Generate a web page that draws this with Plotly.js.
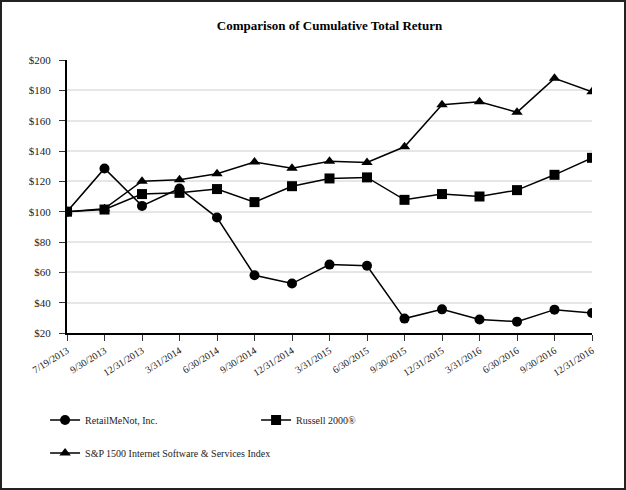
<!DOCTYPE html>
<html>
<head>
<meta charset="utf-8">
<script src="https://cdn.plot.ly/plotly-3.0.1.min.js"></script>
<style>
html,body{margin:0;padding:0;background:#fff;}
#wrap{position:relative;width:626px;height:490px;}
#chart{position:absolute;left:0;top:0;width:626px;height:490px;}
#frame{position:absolute;left:0px;top:0px;width:622px;height:486px;border:2px solid #222;pointer-events:none;}
</style>
</head>
<body>
<div id="wrap"><div id="chart"></div><div id="frame"></div></div>
<script>
var dates = ["7/19/2013","9/30/2013","12/31/2013","3/31/2014","6/30/2014","9/30/2014","12/31/2014","3/31/2015","6/30/2015","9/30/2015","12/31/2015","3/31/2016","6/30/2016","9/30/2016","12/31/2016"];
var retailMeNot = [100,128.5,103.8,115.3,96.1,58.1,52.6,65.1,64.3,29.5,35.6,28.9,27.5,35.4,33.2];
var russell2000 = [100,101.4,111.6,112.4,114.9,106.3,116.8,121.9,122.6,107.8,111.6,110.0,114.2,124.3,135.5];
var sp1500Internet = [100,102.0,120.1,121.0,125.0,132.7,128.7,133.3,132.5,142.8,170.5,172.5,165.5,187.9,179.1];
var yTicks = [20,40,60,80,100,120,140,160,180,200];
var yTickText = yTicks.map(function(v){ return "$" + v; });

var font = "Liberation Serif, Times New Roman, serif";
var traces = [
  {x: dates, y: retailMeNot, name: "RetailMeNot, Inc.", mode: "lines+markers",
   line: {color: "#000", width: 1.5}, marker: {symbol: "circle", size: 10, color: "#000"}, legend: "legend"},
  {x: dates, y: russell2000, name: "Russell 2000®", mode: "lines+markers",
   line: {color: "#000", width: 1.5}, marker: {symbol: "square", size: 10, color: "#000"}, legend: "legend"},
  {x: dates, y: sp1500Internet, name: "S&P 1500 Internet Software & Services Index", mode: "lines+markers",
   line: {color: "#000", width: 1.5}, marker: {symbol: "triangle-up", size: 10, color: "#000"}, legend: "legend2"}
];

var layout = {
  width: 626, height: 490,
  margin: {l: 67, r: 34, t: 60, b: 157},
  paper_bgcolor: "#fff", plot_bgcolor: "#fff",
  font: {family: font, color: "#222", size: 11},
  title: {text: "<b>Comparison of Cumulative Total Return</b>", font: {family: font, size: 13, color: "#000"},
          x: 0.5, xanchor: "center", xref: "paper", y: 0.948, yanchor: "middle"},
  xaxis: {type: "category", tickangle: -32, showgrid: false, zeroline: false,
          showline: true, linecolor: "#000", linewidth: 2, automargin: false,
          ticks: "outside", ticklen: 6, tickcolor: "#333", tickwidth: 1,
          tickfont: {family: font, size: 10, color: "#222"}, range: [0, 14]},
  yaxis: {range: [20, 200], tickmode: "array", tickvals: yTicks, ticktext: yTickText, showgrid: true, gridcolor: "#e6e6e6", gridwidth: 2,
          zeroline: false, showline: true, linecolor: "#000", linewidth: 2, automargin: false,
          ticks: "outside", ticklen: 6, tickcolor: "#333", tickwidth: 1, ticklabelstandoff: 6,
          tickfont: {family: font, size: 11, color: "#222"}},
  legend: {orientation: "h", xref: "container", yref: "container", x: 0.072, xanchor: "left", y: 0.143, yanchor: "middle",
           entrywidth: 166, entrywidthmode: "pixels",
           font: {family: font, size: 10, color: "#222"}, bgcolor: "rgba(0,0,0,0)"},
  legend2: {orientation: "h", xref: "container", yref: "container", x: 0.072, xanchor: "left", y: 0.0755, yanchor: "middle",
           font: {family: font, size: 10, color: "#222"}, bgcolor: "rgba(0,0,0,0)"},
  showlegend: true
};
Plotly.newPlot("chart", traces, layout, {displayModeBar: false, staticPlot: true});
</script>
</body>
</html>
